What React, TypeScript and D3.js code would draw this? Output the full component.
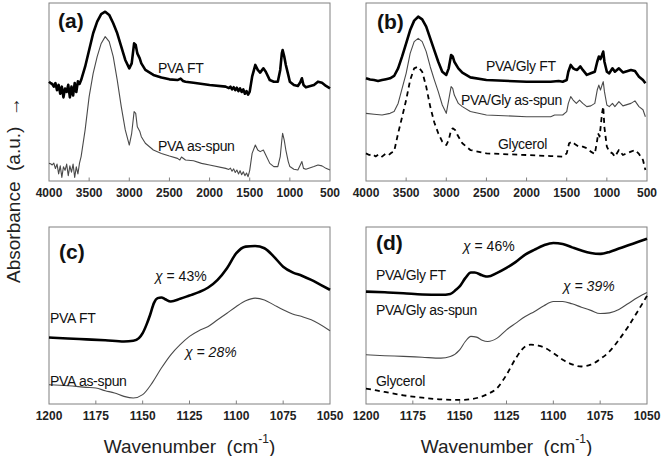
import * as d3 from 'd3'

type Pt = [number, number]

// tick labels
const wideTicks = [4000, 3500, 3000, 2500, 2000, 1500, 1000, 500]
const zoomTicks = [1200, 1175, 1150, 1125, 1100, 1075, 1050]

// (a) full range, PVA
const pvaFT_a: Pt[] = [
  [4000, 0.558], [3980, 0.55], [3960, 0.545], [3940, 0.53], [3920, 0.55], [3900, 0.51], [3880, 0.54],
  [3860, 0.49], [3840, 0.53], [3820, 0.47], [3800, 0.52], [3780, 0.5], [3760, 0.54], [3740, 0.47],
  [3720, 0.53], [3700, 0.48], [3680, 0.55], [3660, 0.5], [3640, 0.56], [3620, 0.545], [3600, 0.567],
  [3550, 0.642], [3500, 0.736], [3450, 0.83], [3400, 0.895], [3350, 0.938], [3300, 0.951],
  [3250, 0.933], [3200, 0.886], [3150, 0.83], [3100, 0.755], [3050, 0.68], [3000, 0.633],
  [2970, 0.661], [2940, 0.773], [2920, 0.764], [2900, 0.717], [2870, 0.689], [2850, 0.661],
  [2800, 0.624], [2700, 0.596], [2600, 0.582], [2500, 0.571], [2400, 0.567], [2360, 0.575],
  [2330, 0.562], [2300, 0.558], [2200, 0.552], [2000, 0.539], [1800, 0.53], [1760, 0.522],
  [1740, 0.53], [1720, 0.515], [1700, 0.527], [1680, 0.51], [1660, 0.524], [1640, 0.505],
  [1620, 0.52], [1600, 0.5], [1580, 0.515], [1560, 0.49], [1540, 0.505], [1520, 0.485],
  [1500, 0.502], [1470, 0.586], [1430, 0.652], [1400, 0.624], [1370, 0.609], [1330, 0.633],
  [1300, 0.614], [1250, 0.567], [1200, 0.558], [1150, 0.558], [1120, 0.624], [1100, 0.717],
  [1090, 0.736], [1070, 0.699], [1050, 0.652], [1020, 0.596], [1000, 0.558], [950, 0.539],
  [900, 0.534], [870, 0.555], [850, 0.577], [830, 0.539], [800, 0.526], [700, 0.539],
  [650, 0.558], [600, 0.552], [550, 0.534], [500, 0.521],
]
const pvaAs_a: Pt[] = [
  [4000, 0.099], [3980, 0.097], [3960, 0.09], [3940, 0.1], [3920, 0.07], [3900, 0.095], [3880, 0.04],
  [3860, 0.085], [3840, 0.02], [3820, 0.08], [3800, 0.06], [3780, 0.095], [3760, 0.03], [3740, 0.085],
  [3720, 0.05], [3700, 0.095], [3680, 0.02], [3660, 0.08], [3640, 0.04], [3620, 0.1], [3600, 0.137],
  [3550, 0.287], [3500, 0.474], [3450, 0.605], [3400, 0.699], [3350, 0.773], [3300, 0.811],
  [3250, 0.783], [3200, 0.699], [3150, 0.567], [3100, 0.418], [3050, 0.287], [3000, 0.202],
  [2970, 0.268], [2940, 0.39], [2920, 0.38], [2900, 0.305], [2870, 0.28], [2850, 0.249],
  [2800, 0.212], [2700, 0.174], [2600, 0.155], [2500, 0.14], [2400, 0.127], [2370, 0.118],
  [2350, 0.135], [2300, 0.118], [2200, 0.114], [2100, 0.099], [2000, 0.09], [1800, 0.071],
  [1760, 0.065], [1740, 0.072], [1720, 0.055], [1700, 0.068], [1680, 0.048], [1660, 0.062],
  [1640, 0.04], [1620, 0.058], [1600, 0.035], [1580, 0.052], [1560, 0.03], [1540, 0.045],
  [1520, 0.024], [1500, 0.06], [1470, 0.155], [1430, 0.202], [1400, 0.174], [1370, 0.165],
  [1330, 0.174], [1300, 0.146], [1250, 0.099], [1200, 0.081], [1150, 0.081], [1120, 0.137],
  [1100, 0.23], [1090, 0.268], [1070, 0.23], [1050, 0.174], [1020, 0.109], [1000, 0.081],
  [950, 0.066], [900, 0.062], [870, 0.09], [850, 0.109], [830, 0.071], [800, 0.066],
  [700, 0.081], [650, 0.09], [600, 0.085], [550, 0.071], [500, 0.062],
]

// (b) full range, PVA/Gly
const glyFT_b: Pt[] = [
  [4000, 0.577], [3950, 0.57], [3900, 0.567], [3850, 0.562], [3800, 0.567], [3750, 0.572],
  [3700, 0.577], [3650, 0.59], [3600, 0.633], [3550, 0.7], [3500, 0.773], [3450, 0.848],
  [3400, 0.901], [3350, 0.923], [3300, 0.908], [3250, 0.867], [3200, 0.801], [3150, 0.735],
  [3100, 0.67], [3050, 0.614], [3000, 0.596], [2970, 0.633], [2940, 0.708], [2920, 0.7],
  [2900, 0.67], [2850, 0.633], [2800, 0.609], [2700, 0.582], [2500, 0.567], [2000, 0.558],
  [1700, 0.558], [1600, 0.562], [1550, 0.558], [1500, 0.567], [1480, 0.614], [1450, 0.652],
  [1420, 0.633], [1400, 0.628], [1370, 0.624], [1330, 0.644], [1300, 0.624], [1250, 0.596],
  [1200, 0.605], [1150, 0.614], [1120, 0.67], [1100, 0.699], [1080, 0.685], [1060, 0.708],
  [1045, 0.727], [1030, 0.67], [1000, 0.614], [970, 0.605], [930, 0.633], [900, 0.614],
  [850, 0.633], [800, 0.61], [700, 0.624], [650, 0.618], [600, 0.586], [550, 0.567], [520, 0.549],
]
const glyAs_b: Pt[] = [
  [4000, 0.38], [3900, 0.375], [3800, 0.371], [3700, 0.38], [3650, 0.39], [3600, 0.436],
  [3550, 0.52], [3500, 0.605], [3450, 0.717], [3400, 0.783], [3350, 0.801], [3300, 0.783],
  [3250, 0.727], [3200, 0.642], [3150, 0.57], [3100, 0.502], [3050, 0.427], [3000, 0.38],
  [2970, 0.455], [2940, 0.53], [2920, 0.52], [2900, 0.483], [2850, 0.436], [2800, 0.418],
  [2700, 0.39], [2500, 0.371], [2000, 0.361], [1700, 0.361], [1650, 0.371], [1550, 0.371],
  [1500, 0.39], [1480, 0.436], [1450, 0.474], [1420, 0.455], [1380, 0.436], [1340, 0.455],
  [1300, 0.436], [1250, 0.418], [1200, 0.422], [1150, 0.436], [1120, 0.511], [1100, 0.539],
  [1080, 0.511], [1060, 0.539], [1045, 0.558], [1030, 0.502], [1000, 0.427], [970, 0.418],
  [930, 0.436], [900, 0.418], [850, 0.446], [800, 0.422], [700, 0.436], [650, 0.45],
  [600, 0.418], [550, 0.4], [520, 0.361],
]
const glycerol_b: Pt[] = [
  [4000, 0.155], [3960, 0.146], [3920, 0.152], [3880, 0.138], [3840, 0.15], [3800, 0.137],
  [3760, 0.152], [3720, 0.145], [3680, 0.16], [3650, 0.165], [3600, 0.268], [3550, 0.36],
  [3500, 0.455], [3450, 0.567], [3400, 0.633], [3350, 0.642], [3300, 0.614], [3250, 0.53],
  [3200, 0.418], [3150, 0.33], [3100, 0.268], [3050, 0.221], [3000, 0.202], [2970, 0.23],
  [2940, 0.287], [2920, 0.296], [2890, 0.287], [2860, 0.258], [2800, 0.212], [2700, 0.174],
  [2500, 0.155], [2000, 0.146], [1700, 0.14], [1550, 0.137], [1500, 0.155], [1470, 0.212],
  [1430, 0.221], [1400, 0.208], [1350, 0.193], [1300, 0.193], [1250, 0.184], [1200, 0.165],
  [1150, 0.152], [1120, 0.23], [1110, 0.268], [1090, 0.25], [1060, 0.38], [1045, 0.418],
  [1030, 0.3], [1000, 0.193], [970, 0.165], [930, 0.155], [900, 0.137], [850, 0.174],
  [800, 0.146], [700, 0.165], [650, 0.174], [600, 0.152], [550, 0.118], [520, 0.062],
]

// (c) 1200-1050, PVA
const pvaFT_c: Pt[] = [
  [1200, 0.376], [1190, 0.37], [1180, 0.365], [1170, 0.36], [1160, 0.353], [1155, 0.357],
  [1152, 0.372], [1150, 0.4], [1148, 0.447], [1146, 0.504], [1144, 0.57], [1142, 0.598],
  [1140, 0.602], [1138, 0.592], [1135, 0.579], [1130, 0.594], [1125, 0.613], [1120, 0.632],
  [1115, 0.658], [1110, 0.701], [1105, 0.767], [1100, 0.852], [1095, 0.889], [1090, 0.893],
  [1085, 0.88], [1080, 0.833], [1075, 0.776], [1070, 0.744], [1065, 0.725], [1060, 0.701],
  [1055, 0.673], [1050, 0.645],
]
const pvaAs_c: Pt[] = [
  [1200, 0.109], [1190, 0.103], [1180, 0.094], [1175, 0.09], [1170, 0.075], [1165, 0.062],
  [1160, 0.043], [1155, 0.034], [1150, 0.053], [1145, 0.118], [1140, 0.203], [1135, 0.278],
  [1130, 0.335], [1125, 0.382], [1120, 0.414], [1115, 0.438], [1110, 0.476], [1105, 0.513],
  [1100, 0.551], [1095, 0.583], [1090, 0.598], [1085, 0.588], [1080, 0.56], [1075, 0.532],
  [1070, 0.508], [1065, 0.494], [1060, 0.476], [1050, 0.414],
]

// (d) 1200-1050, PVA/Gly
const glyFT_d: Pt[] = [
  [1200, 0.635], [1190, 0.631], [1180, 0.626], [1170, 0.619], [1160, 0.617], [1155, 0.622],
  [1152, 0.645], [1150, 0.664], [1147, 0.711], [1144, 0.743], [1142, 0.743], [1138, 0.727],
  [1135, 0.72], [1130, 0.741], [1125, 0.769], [1120, 0.803], [1115, 0.844], [1110, 0.872],
  [1105, 0.897], [1100, 0.91], [1095, 0.904], [1090, 0.885], [1085, 0.867], [1080, 0.853],
  [1075, 0.848], [1070, 0.859], [1065, 0.878], [1060, 0.897], [1055, 0.915], [1050, 0.934],
]
const glyAs_d: Pt[] = [
  [1200, 0.278], [1190, 0.273], [1180, 0.269], [1170, 0.264], [1160, 0.259], [1155, 0.268],
  [1150, 0.306], [1147, 0.353], [1144, 0.382], [1141, 0.378], [1138, 0.36], [1135, 0.353],
  [1130, 0.372], [1125, 0.419], [1120, 0.457], [1115, 0.494], [1110, 0.523], [1105, 0.555],
  [1100, 0.579], [1095, 0.579], [1090, 0.566], [1085, 0.547], [1080, 0.529], [1075, 0.511],
  [1070, 0.515], [1065, 0.534], [1060, 0.568], [1055, 0.602], [1050, 0.63],
]
const glycerol_d: Pt[] = [
  [1200, 0.087], [1190, 0.068], [1180, 0.049], [1170, 0.036], [1160, 0.026], [1150, 0.023],
  [1145, 0.026], [1140, 0.036], [1135, 0.057], [1130, 0.09], [1125, 0.165], [1120, 0.259],
  [1115, 0.325], [1112, 0.335], [1108, 0.33], [1105, 0.32], [1100, 0.288], [1095, 0.25],
  [1090, 0.224], [1085, 0.212], [1080, 0.222], [1075, 0.254], [1070, 0.297], [1065, 0.363],
  [1060, 0.438], [1055, 0.523], [1050, 0.611],
]

type Kind = 'thick' | 'thin' | 'dash'
interface Series { data: Pt[]; kind: Kind }
interface Label { text: string; x: number; y: number; italic?: 'chi' | 'all' }
interface Panel {
  tag: string
  left: number; right: number; top: number; bottom: number
  domain: [number, number]
  ticks: number[]
  smooth: boolean
  series: Series[]
  labels: Label[]
  tagPos: [number, number]
}

const panels: Panel[] = [
  {
    tag: '(a)', left: 49, right: 330, top: 3, bottom: 181, domain: [4000, 500], ticks: wideTicks,
    smooth: false, tagPos: [58, 28],
    series: [{ data: pvaAs_a, kind: 'thin' }, { data: pvaFT_a, kind: 'thick' }],
    labels: [{ text: 'PVA FT', x: 158, y: 68 }, { text: 'PVA as-spun', x: 158, y: 146 }],
  },
  {
    tag: '(b)', left: 366, right: 647, top: 3, bottom: 181, domain: [4000, 500], ticks: wideTicks,
    smooth: false, tagPos: [377, 29],
    series: [
      { data: glycerol_b, kind: 'dash' },
      { data: glyAs_b, kind: 'thin' },
      { data: glyFT_b, kind: 'thick' },
    ],
    labels: [
      { text: 'PVA/Gly FT', x: 486, y: 66 },
      { text: 'PVA/Gly as-spun', x: 461, y: 100 },
      { text: 'Glycerol', x: 498, y: 144 },
    ],
  },
  {
    tag: '(c)', left: 49, right: 330, top: 227, bottom: 404, domain: [1200, 1050], ticks: zoomTicks,
    smooth: true, tagPos: [59, 259],
    series: [{ data: pvaAs_c, kind: 'thin' }, { data: pvaFT_c, kind: 'thick' }],
    labels: [
      { text: 'PVA FT', x: 50, y: 318 },
      { text: 'PVA as-spun', x: 50, y: 381 },
      { text: 'χ = 43%', x: 155, y: 276, italic: 'chi' },
      { text: 'χ = 28%', x: 185, y: 352, italic: 'all' },
    ],
  },
  {
    tag: '(d)', left: 366, right: 647, top: 227, bottom: 404, domain: [1200, 1050], ticks: zoomTicks,
    smooth: true, tagPos: [376, 250],
    series: [
      { data: glycerol_d, kind: 'dash' },
      { data: glyAs_d, kind: 'thin' },
      { data: glyFT_d, kind: 'thick' },
    ],
    labels: [
      { text: 'χ = 46%', x: 463, y: 246, italic: 'chi' },
      { text: 'PVA/Gly FT', x: 376, y: 275 },
      { text: 'χ = 39%', x: 563, y: 286, italic: 'all' },
      { text: 'PVA/Gly as-spun', x: 376, y: 310 },
      { text: 'Glycerol', x: 376, y: 381 },
    ],
  },
]

const FONT = '"Liberation Sans", Arial, Helvetica, sans-serif'
const FRAME = '#808080'

const strokeFor: Record<Kind, { stroke: string; width: number; dash?: string }> = {
  thick: { stroke: '#000', width: 2.6 },
  thin: { stroke: '#4a4a4a', width: 1.1 },
  dash: { stroke: '#000', width: 1.8, dash: '5,4' },
}

function PanelView({ p }: { p: Panel }) {
  const x = d3.scaleLinear().domain(p.domain).range([p.left, p.right])
  const y = d3.scaleLinear().domain([0, 1]).range([p.bottom, p.top])
  const line = d3.line<Pt>()
    .x(d => x(d[0]))
    .y(d => y(d[1]))
    .curve(p.smooth ? d3.curveMonotoneX : d3.curveLinear)

  return (
    <g>
      <rect x={p.left} y={p.top} width={p.right - p.left} height={p.bottom - p.top}
        fill="none" stroke={FRAME} strokeWidth={1} />
      {p.ticks.map(t => (
        <g key={t}>
          {t !== p.domain[0] && t !== p.domain[1] && (
            <line x1={x(t)} x2={x(t)} y1={p.bottom} y2={p.bottom - 3.5} stroke={FRAME} />
          )}
          <text x={x(t)} y={p.bottom + 12} textAnchor="middle" dominantBaseline="central"
            fontFamily={FONT} fontSize={12} fontWeight="bold" fill="#222">{t}</text>
        </g>
      ))}
      {p.series.map((s, i) => {
        const st = strokeFor[s.kind]
        return (
          <path key={i} d={line(s.data) ?? ''} fill="none" stroke={st.stroke}
            strokeWidth={st.width} strokeDasharray={st.dash} strokeLinejoin="round" />
        )
      })}
      <text x={p.tagPos[0]} y={p.tagPos[1]} fontFamily={FONT} fontSize={21}
        fontWeight="bold" fill="#111">{p.tag}</text>
      {p.labels.map((l, i) => {
        if (l.italic) {
          const rest = l.text.slice(1)
          return (
            <text key={i} x={l.x} y={l.y} dominantBaseline="central" fontFamily={FONT}
              fontSize={14} fill="#111" fontStyle={l.italic === 'all' ? 'italic' : 'normal'}>
              <tspan fontStyle="italic">χ</tspan>{rest}
            </text>
          )
        }
        return (
          <text key={i} x={l.x} y={l.y} dominantBaseline="central" fontFamily={FONT}
            fontSize={14} fill="#111" letterSpacing={-0.3}>{l.text}</text>
        )
      })}
    </g>
  )
}

export default function App() {
  return (
    <svg width={661} height={456} viewBox="0 0 661 456"
      style={{ position: 'absolute', left: 0, top: 0, background: '#fff' }}>
      <rect width={661} height={456} fill="#fff" />
      {panels.map(p => <PanelView key={p.tag} p={p} />)}
      <text transform="translate(13,190) rotate(-90)" textAnchor="middle" dominantBaseline="central"
        fontFamily={FONT} fontSize={19} fill="#222" style={{ whiteSpace: 'pre' }}>
        {'Absorbance  (a.u.)  →'}
      </text>
      {[panels[2], panels[3]].map(p => (
        <text key={p.tag} x={(p.left + p.right) / 2} y={446} textAnchor="middle"
          dominantBaseline="central" fontFamily={FONT} fontSize={19} fill="#222"
          style={{ whiteSpace: 'pre' }}>
          {'Wavenumber  (cm'}
          <tspan fontSize={12} dy={-7}>-1</tspan>
          <tspan dy={7}>)</tspan>
        </text>
      ))}
    </svg>
  )
}
